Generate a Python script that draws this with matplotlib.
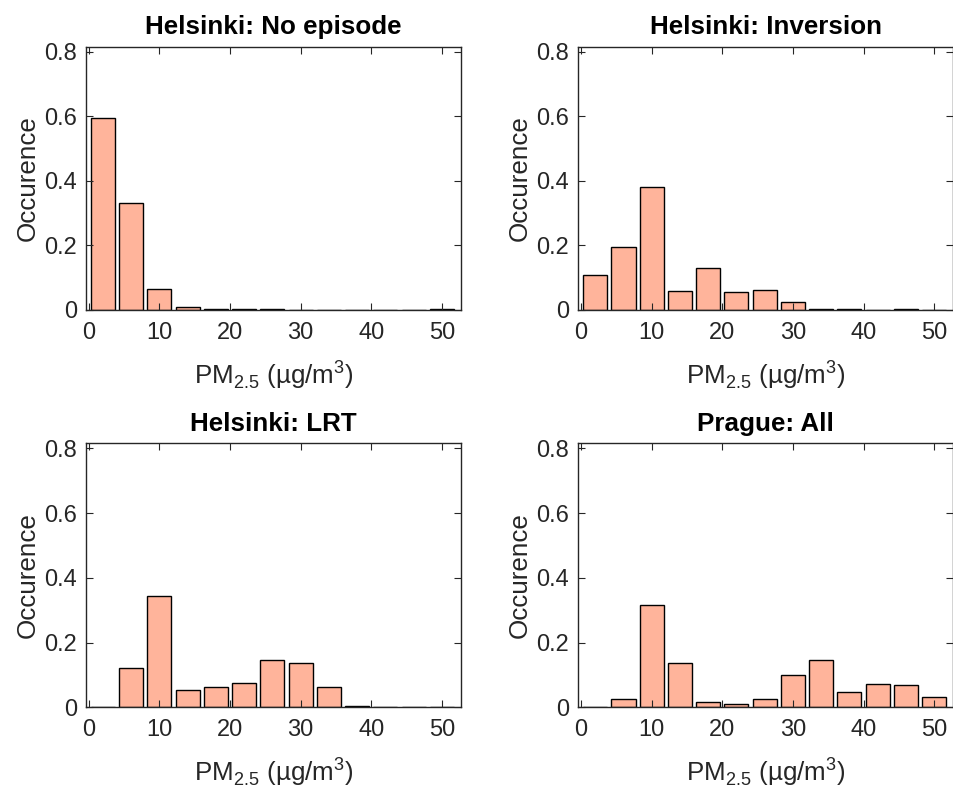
import numpy as np
import matplotlib.pyplot as plt

plt.rcParams['font.family'] = ['Liberation Sans', 'DejaVu Sans']
plt.rcParams['mathtext.fontset'] = 'custom'
plt.rcParams['mathtext.rm'] = 'Liberation Sans'

# 4 ug/m3 wide bins, centres 2, 6, ..., 50
bin_centres = [2, 6, 10, 14, 18, 22, 26, 30, 34, 38, 42, 46, 50]

titles = ["Helsinki: No episode", "Helsinki: Inversion", "Helsinki: LRT", "Prague: All"]

no_episode = [0.596, 0.333, 0.066, 0.009, 0.002, 0.002, 0.002, 0, 0, 0, 0, 0, 0.002]
inversion = [0.108, 0.195, 0.380, 0.059, 0.129, 0.055, 0.062, 0.025, 0.002, 0.002, 0, 0.002, 0]
lrt = [0, 0.121, 0.345, 0.053, 0.063, 0.075, 0.146, 0.138, 0.063, 0.004, 0, 0, 0]
prague = [0, 0.025, 0.316, 0.138, 0.016, 0.011, 0.025, 0.100, 0.146, 0.046, 0.071, 0.068, 0.033]

series = [no_episode, inversion, lrt, prague]

fig = plt.figure(figsize=(9.54, 7.96), dpi=100)

# axes boxes [left, bottom, width, height] in figure fractions
boxes = [[0.0901, 0.6106, 0.393, 0.3307],
         [0.6062, 0.6106, 0.393, 0.3307],
         [0.0901, 0.1114, 0.393, 0.3317],
         [0.6062, 0.1114, 0.393, 0.3317]]

grey = '#262626'
tick_fs = 17
label_fs = 18.7

for box, title, vals in zip(boxes, titles, series):
    ax = fig.add_axes(box)
    ax.bar(bin_centres, vals, width=3.4, color='#FFB49B', edgecolor='black', linewidth=1.0)
    ax.set_xlim(-0.4, 52.7)
    ax.set_ylim(0, 0.816)
    ax.set_xticks([0, 10, 20, 30, 40, 50])
    ax.set_yticks([0, 0.2, 0.4, 0.6, 0.8])
    ax.set_yticklabels(['0', '0.2', '0.4', '0.6', '0.8'])
    ax.tick_params(direction='in', top=True, right=True, length=5, width=0.8,
                   labelsize=tick_fs, colors=grey)
    ax.tick_params(axis='x', pad=8.5)
    ax.tick_params(axis='y', pad=6.5)
    for s in ax.spines.values():
        s.set_color(grey)
        s.set_linewidth(1.0)
    ax.set_title(title, fontsize=label_fs, fontweight='bold', pad=9)
    ax.set_ylabel('Occurence', fontsize=label_fs, color=grey, labelpad=3)
    ax.set_xlabel(r'PM$_\mathregular{2.5}$ (µg/m$^\mathregular{3}$)', fontsize=label_fs,
                  color=grey, labelpad=10)

fig.savefig('out.png', dpi=100)
